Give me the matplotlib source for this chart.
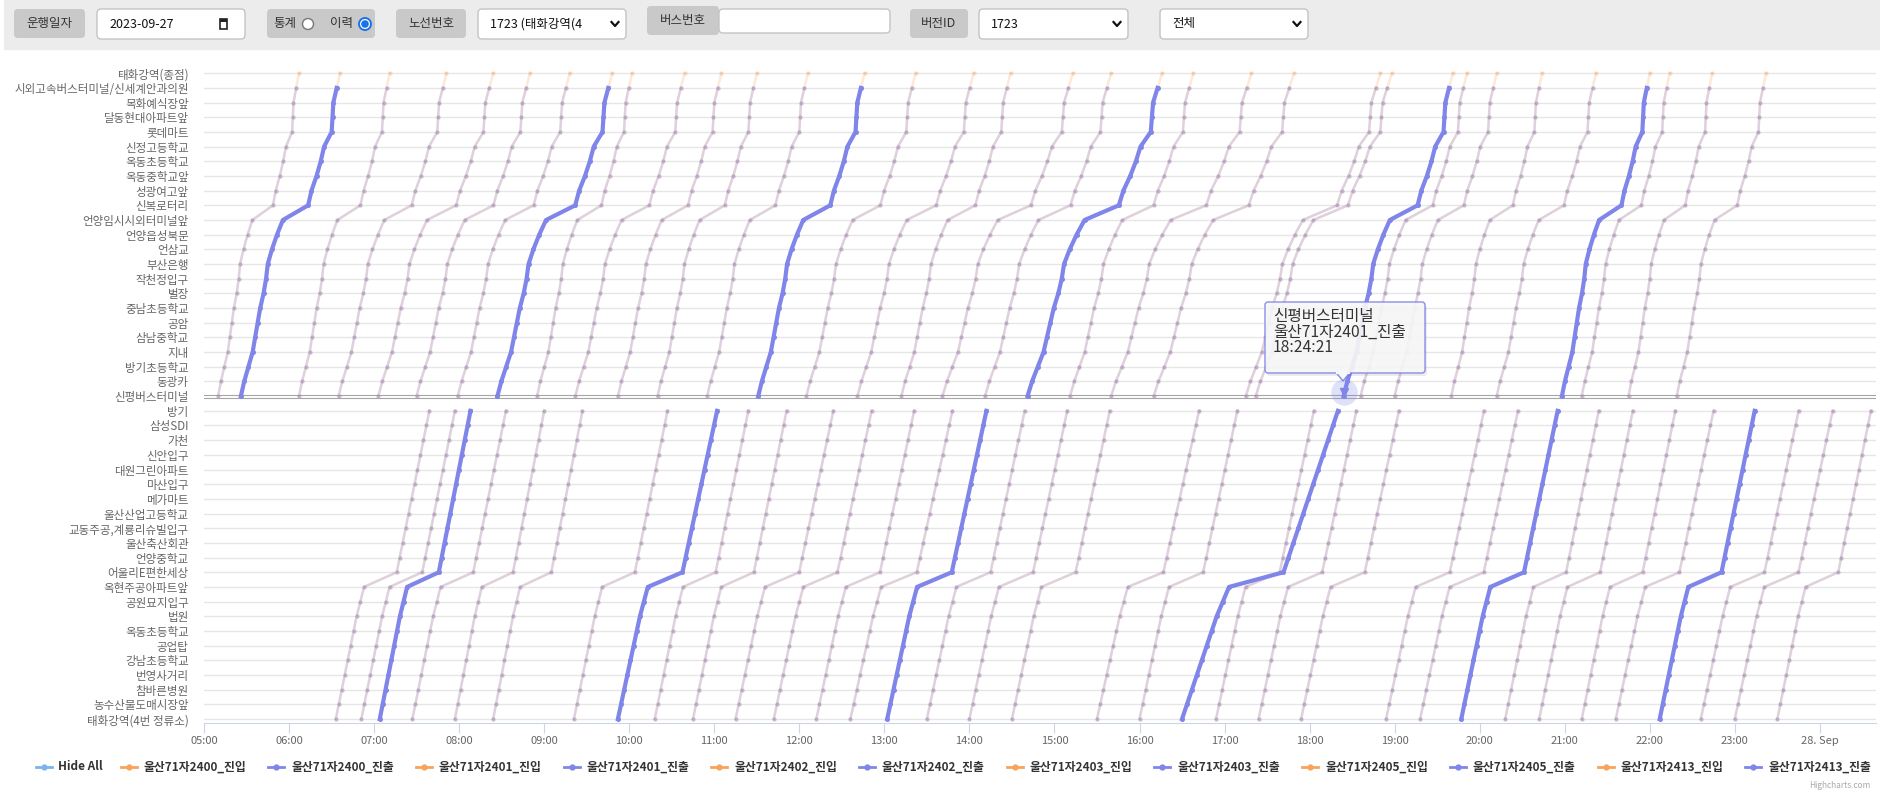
import matplotlib
matplotlib.use("Agg")
import matplotlib.pyplot as plt
import numpy as np
from matplotlib.patches import FancyBboxPatch, Polygon, Rectangle, Circle

plt.rcParams['font.family'] = ['Noto Sans CJK KR', 'DejaVu Sans']

# 정류장 (아래에서 위로)
stops_bottom = ["태화강역(4번 정류소)", "농수산물도매시장앞", "참바른병원", "번영사거리", "강남초등학교",
                "공업탑", "옥동초등학교", "법원", "공원묘지입구", "옥현주공아파트앞", "어울리E편한세상",
                "언양중학교", "울산축산회관", "교동주공,계룡리슈빌입구", "울산산업고등학교", "메가마트",
                "마산입구", "대원그린아파트", "신안입구", "가천", "삼성SDI", "방기"]
stops_top = ["신평버스터미널", "동광카", "방기초등학교", "지내", "삼남중학교", "공암", "중남초등학교",
             "벌장", "작천정입구", "부산은행", "언삼교", "언양읍성북문", "언양임시시외터미널앞", "신복로터리",
             "성광여고앞", "옥동중학교앞", "옥동초등학교", "신정고등학교", "롯데마트", "달동현대아파트앞",
             "목화예식장앞", "시외고속버스터미널/신세계안과의원", "태화강역(종점)"]

# 정류장별 누적 소요시간(분), 굵은 선(2401)에서 읽음
profile_bottom = [0, 2, 4, 6, 8, 10, 12, 14, 16.5, 19, 41, 43, 45, 47, 49, 51, 53, 55, 57, 59, 61, 63]
profile_top = [0, 2, 4.5, 7, 8.5, 10, 11.5, 13.5, 15, 16, 18.5, 21.5, 25, 40, 42, 45, 47.5, 49.5,
               54, 54.5, 55, 57, 59]

buses = ["2400", "2401", "2402", "2403", "2405", "2413"]

# 운행 (출발, 도착)
top_2400 = [("05:10", "06:07"), ("07:59", "09:18"), ("10:55", "12:06"), ("14:11", "15:40"),
            ("17:22", "18:58"), ("21:12", "22:14")]
top_2401 = [("05:26", "06:36"), ("08:27", "09:48"), ("11:31", "12:46"), ("14:41", "16:16"),
            ("18:24", "19:41"), ("20:58", "22:00")]
top_2402 = [("06:07", "07:11"), ("08:55", "10:02"), ("12:05", "13:22"), ("15:11", "16:38"),
            ("18:36", "19:51"), ("21:45", "22:44")]
top_2403 = [("06:35", "07:51"), ("09:22", "10:39"), ("12:41", "14:03"), ("15:40", "17:19"),
            ("19:00", "20:12"), ("22:19", "23:22")]
top_2405 = [("07:03", "08:24"), ("09:52", "11:05"), ("13:12", "14:29"), ("16:10", "17:49"),
            ("19:40", "20:44")]
top_2413 = [("07:30", "08:50"), ("10:20", "11:30"), ("13:41", "15:13"), ("17:15", "18:50"),
            ("20:12", "21:22")]

bottom_2400 = [("06:33", "07:39"), ("09:21", "10:27"), ("12:12", "13:21"), ("15:30", "16:42"),
               ("18:54", "20:03"), ("22:36", "23:45")]
bottom_2401 = [("07:04", "08:08"), ("09:52", "11:02"), ("13:02", "14:12"), ("16:30", "18:20"),
               ("19:47", "20:55"), ("22:07", "23:14")]
bottom_2402 = [("06:51", "07:57"), ("10:18", "11:24"), ("12:36", "13:48"), ("16:00", "17:09"),
               ("19:18", "20:27"), ("23:00", "24:09")]
bottom_2403 = [("07:27", "08:33"), ("10:45", "11:51"), ("13:30", "14:39"), ("16:54", "18:03"),
               ("20:18", "21:24"), ("23:30", "24:36")]
bottom_2405 = [("07:57", "09:00"), ("11:15", "12:24"), ("14:00", "15:09"), ("17:24", "18:33"),
               ("20:42", "21:48")]
bottom_2413 = [("08:24", "09:27"), ("11:42", "12:51"), ("14:30", "15:39"), ("17:54", "19:03"),
               ("21:12", "22:18"), ("21:36", "22:45")]

top_trips = {"2400": top_2400, "2401": top_2401, "2402": top_2402,
             "2403": top_2403, "2405": top_2405, "2413": top_2413}
bottom_trips = {"2400": bottom_2400, "2401": bottom_2401, "2402": bottom_2402,
                "2403": bottom_2403, "2405": bottom_2405, "2413": bottom_2413}

x_ticks = ["05:00", "06:00", "07:00", "08:00", "09:00", "10:00", "11:00", "12:00", "13:00", "14:00",
           "15:00", "16:00", "17:00", "18:00", "19:00", "20:00", "21:00", "22:00", "23:00", "28. Sep"]

tooltip_lines = ["신평버스터미널", "울산71자2401_진출", "18:24:21"]

C_IN = "#f7a35c"
C_OUT = "#8085e9"
C_ALL = "#7cb5ec"


def hm(s):
    h, m = s.split(":")
    return int(h) + int(m) / 60.0


def series(bus, departures):
    # 진출은 종점(태화강역 종점)에서 찍히지 않음
    xs, ys = [], []
    trips = [(hm(a), hm(b), profile_bottom, 0, False) for a, b in bottom_trips[bus]] + \
            [(hm(a), hm(b), profile_top, len(stops_bottom), True) for a, b in top_trips[bus]]
    trips.sort()
    for t0, t1, prof, base, terminal in trips:
        p = np.array(prof) / prof[-1]
        n = len(prof) - 1 if (departures and terminal) else len(prof)
        xs.extend(list(t0 + p[:n] * (t1 - t0)) + [np.nan])
        ys.extend(list(base + np.arange(n)) + [np.nan])
    return np.array(xs), np.array(ys)


W, H = 1881, 792
fig = plt.figure(figsize=(W / 100, H / 100), dpi=100)

ax = fig.add_axes([204 / W, (H - 723) / H, (1876 - 204) / W, (723 - 60) / H])
ax.set_facecolor("white")

n_stops = len(stops_bottom) + len(stops_top)
labels = stops_bottom + stops_top
for i in range(n_stops):
    if i == len(stops_bottom):
        continue
    ax.axhline(i, color="#e6e6e6", lw=1, zorder=1)
ax.axhline(len(stops_bottom) - 0.11, color="#a6a6a6", lw=0.8, zorder=1)
ax.axhline(len(stops_bottom) + 0.11, color="#a6a6a6", lw=0.8, zorder=1)

for bus in buses:
    x, y = series(bus, False)
    ax.plot(x, y, color=C_IN, lw=1.8, alpha=0.24, marker="o", ms=2.2, zorder=2)
    x, y = series(bus, True)
    ax.plot(x, y, color=C_OUT, lw=1.8, alpha=0.24, marker="o", ms=2.2, zorder=2)

x, y = series("2401", True)
ax.plot(x, y, color=C_OUT, lw=3, marker="o", ms=2.5, zorder=4)

hx = hm(top_2401[4][0])
hy = len(stops_bottom)
ax.plot(hx, hy + 0.25, "o", ms=19, color=C_OUT, alpha=0.25, mec="none", zorder=5)
ax.plot(hx, hy + 0.25, "v", ms=6, color=C_OUT, zorder=6)

ax.set_ylim(-0.27, 44.9)
ax.set_xlim(5, 24.66)
ax.set_yticks(range(n_stops))
ax.set_yticklabels(labels, fontsize=8.3, color="#666666")
ax.tick_params(axis="y", length=0, pad=11)
ax.set_xticks(range(5, 5 + len(x_ticks)))
ax.set_xticklabels(x_ticks, fontsize=8, color="#666666")
ax.tick_params(axis="x", length=7, color="#ccd6eb", pad=2)
for s in ["top", "right", "left"]:
    ax.spines[s].set_visible(False)
ax.spines["bottom"].set_color("#ccd6eb")

# 화면 상단 조회 영역, 범례, 툴팁 (픽셀 좌표)
ov = fig.add_axes([0, 0, 1, 1], zorder=10)
ov.set_xlim(0, W)
ov.set_ylim(H, 0)
ov.axis("off")
ov.patch.set_alpha(0)

ov.add_patch(Rectangle((4, 0), W - 4, 49, color="#ececec", zorder=0))


def button(x0, x1, y0, y1, text):
    ov.add_patch(FancyBboxPatch((x0, y0), x1 - x0, y1 - y0, boxstyle="round,pad=0,rounding_size=4",
                                fc="#c9c9c9", ec="none", zorder=1))
    ov.text((x0 + x1) / 2, (y0 + y1) / 2, text, fontsize=9, color="#333333", ha="center", va="center")


def field(x0, x1, y0, y1, text, chevron=True):
    ov.add_patch(FancyBboxPatch((x0, y0), x1 - x0, y1 - y0, boxstyle="round,pad=0,rounding_size=4",
                                fc="white", ec="#c4c4c4", lw=1, zorder=1))
    if text:
        ov.text(x0 + 12, (y0 + y1) / 2, text, fontsize=9, color="#111111", ha="left", va="center")
    if chevron:
        cx, cy = x1 - 11, (y0 + y1) / 2
        ov.plot([cx - 3.5, cx, cx + 3.5], [cy - 2, cy + 2, cy - 2], color="#111111", lw=1.6)


button(14, 85, 9, 38, "운행일자")
field(97, 245, 9, 39, "2023-09-27", chevron=False)
ov.add_patch(Rectangle((220, 19), 7, 10, fc="none", ec="#222222", lw=1.2))
ov.add_patch(Rectangle((220, 19), 7, 3, fc="#222222", ec="none"))
ov.add_patch(FancyBboxPatch((267, 9), 108, 29, boxstyle="round,pad=0,rounding_size=4",
                            fc="#c9c9c9", ec="none", zorder=1))
ov.text(273, 23.5, "통계", fontsize=9, color="#333333", va="center")
ov.add_patch(Circle((308, 24), 5.5, fc="white", ec="#777777", lw=1, zorder=2))
ov.text(330, 23.5, "이력", fontsize=9, color="#333333", va="center")
ov.add_patch(Circle((365, 24), 6, fc="white", ec="#1a73e8", lw=1.4, zorder=2))
ov.add_patch(Circle((365, 24), 3.8, fc="#1a73e8", ec="none", zorder=3))
button(396, 466, 9, 38, "노선번호")
field(478, 626, 9, 39, "1723 (태화강역(4")
button(647, 719, 6, 35, "버스번호")
field(719, 890, 9, 33, "", chevron=False)
button(910, 968, 9, 38, "버전ID")
field(979, 1128, 9, 39, "1723")
field(1160, 1308, 9, 39, "전체")

# 범례
ly = 767
ov.plot([36, 52], [ly, ly], color=C_ALL, lw=2)
ov.plot([44], [ly], "o", ms=3.5, color=C_ALL)
ov.text(58, ly, "Hide All", fontsize=8.5, fontweight="bold", color="#333333", va="center")
i = 0
for bus in buses:
    for kind, col in (("진입", C_IN), ("진출", C_OUT)):
        mx = 128.5 + 147.7 * i
        ov.plot([mx - 8, mx + 8], [ly, ly], color=col, lw=2)
        ov.plot([mx], [ly], "o", ms=3.5, color=col)
        ov.text(mx + 15, ly, "울산71자" + bus + "_" + kind, fontsize=8.5, fontweight="bold",
                color="#333333", va="center")
        i += 1

ov.text(1870, 790, "Highcharts.com", fontsize=6, color="#aaaaaa", va="bottom", ha="right")

# 툴팁
ov.add_patch(FancyBboxPatch((1267, 305), 160, 71, boxstyle="round,pad=0,rounding_size=3",
                            fc="#000000", alpha=0.08, ec="none", zorder=3))
ov.add_patch(FancyBboxPatch((1265, 302), 160, 71, boxstyle="round,pad=0,rounding_size=3",
                            fc="#f7f7f7", alpha=0.92, ec=C_OUT, lw=1, zorder=4))
ov.add_patch(Polygon([(1336, 372.5), (1343, 381), (1350, 372.5)], closed=False,
                     fc="#f7f7f7", ec=C_OUT, lw=1, zorder=5))
ov.plot([1336.6, 1349.4], [373, 373], color="#f7f7f7", lw=1.5, zorder=6)
for k, line in enumerate(tooltip_lines):
    ov.text(1273, 317 + 15.5 * k, line, fontsize=11.3, color="#333333", va="center", zorder=7)

fig.savefig("out.png", dpi=100)
